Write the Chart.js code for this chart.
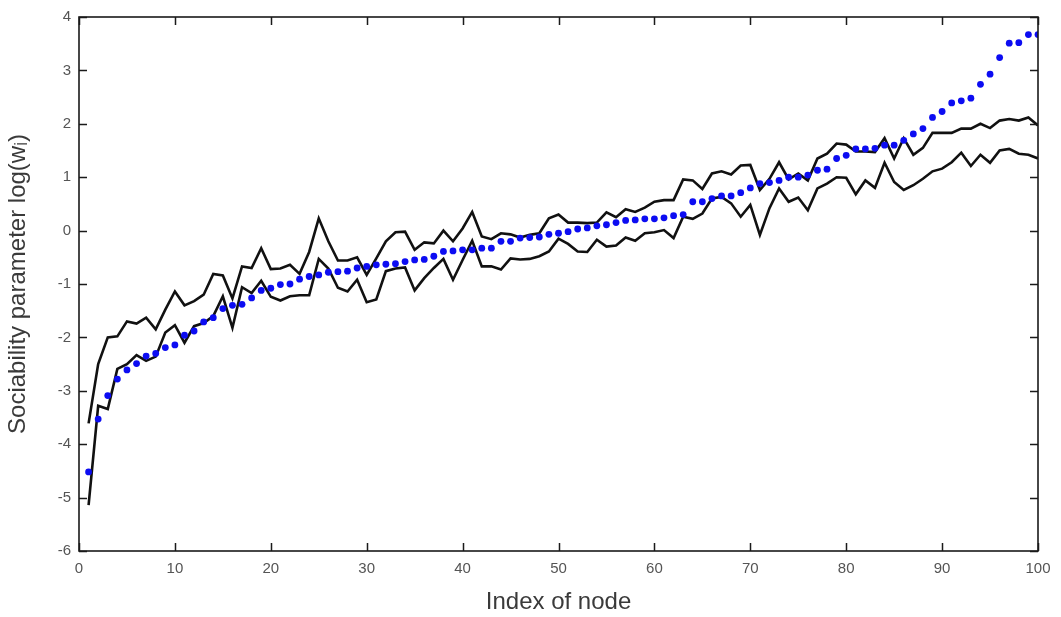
<!DOCTYPE html>
<html>
<head>
<meta charset="utf-8">
<script src="https://cdn.jsdelivr.net/npm/chart.js@4/dist/chart.umd.min.js"></script>
<style>
  html, body { margin: 0; padding: 0; background: #ffffff; }
  #wrap { width: 1061px; height: 617px; }
</style>
</head>
<body>
<div id="wrap"><canvas id="c" width="1061" height="617"></canvas></div>
<script>
// ---- Data ----
const nodeIndex = [1,2,3,4,5,6,7,8,9,10,11,12,13,14,15,16,17,18,19,20,
  21,22,23,24,25,26,27,28,29,30,31,32,33,34,35,36,37,38,39,40,
  41,42,43,44,45,46,47,48,49,50,51,52,53,54,55,56,57,58,59,60,
  61,62,63,64,65,66,67,68,69,70,71,72,73,74,75,76,77,78,79,80,
  81,82,83,84,85,86,87,88,89,90,91,92,93,94,95,96,97,98,99,100];

const estimate = [-4.52,-3.53,-3.09,-2.78,-2.61,-2.49,-2.35,-2.30,-2.19,-2.14,
  -1.96,-1.88,-1.71,-1.63,-1.46,-1.40,-1.38,-1.26,-1.12,-1.08,
  -1.01,-1.00,-0.91,-0.86,-0.83,-0.78,-0.77,-0.76,-0.70,-0.67,
  -0.64,-0.63,-0.62,-0.58,-0.55,-0.54,-0.48,-0.39,-0.38,-0.36,
  -0.36,-0.33,-0.33,-0.20,-0.20,-0.14,-0.13,-0.12,-0.07,-0.05,
  -0.02,0.03,0.05,0.09,0.11,0.15,0.19,0.20,0.22,0.22,
  0.24,0.28,0.30,0.54,0.54,0.60,0.65,0.65,0.71,0.80,
  0.88,0.90,0.94,1.00,1.00,1.04,1.13,1.15,1.35,1.41,
  1.53,1.53,1.54,1.60,1.60,1.69,1.81,1.91,2.12,2.23,
  2.39,2.43,2.48,2.74,2.93,3.24,3.51,3.52,3.67,3.67];

const upperBound = [-3.61,-2.50,-2.00,-1.98,-1.70,-1.74,-1.63,-1.85,-1.48,-1.14,
  -1.40,-1.32,-1.20,-0.81,-0.84,-1.27,-0.67,-0.70,-0.33,-0.72,
  -0.71,-0.64,-0.81,-0.40,0.23,-0.20,-0.56,-0.56,-0.50,-0.83,
  -0.52,-0.20,-0.03,-0.02,-0.36,-0.22,-0.24,0.00,-0.20,0.04,
  0.35,-0.11,-0.16,-0.05,-0.07,-0.13,-0.08,-0.05,0.23,0.30,
  0.15,0.15,0.14,0.15,0.34,0.25,0.40,0.35,0.43,0.54,
  0.57,0.57,0.96,0.94,0.78,1.07,1.11,1.05,1.22,1.23,
  0.76,0.97,1.28,0.96,1.07,0.94,1.35,1.44,1.63,1.61,
  1.48,1.48,1.47,1.73,1.35,1.73,1.42,1.55,1.83,1.83,
  1.83,1.91,1.91,2.00,1.92,2.06,2.09,2.06,2.12,1.97];

const lowerBound = [-5.14,-3.28,-3.34,-2.59,-2.50,-2.33,-2.44,-2.36,-1.91,-1.77,
  -2.10,-1.79,-1.73,-1.60,-1.23,-1.82,-1.06,-1.17,-0.94,-1.24,
  -1.31,-1.23,-1.21,-1.21,-0.53,-0.71,-1.07,-1.14,-0.92,-1.34,
  -1.29,-0.76,-0.71,-0.69,-1.12,-0.89,-0.70,-0.53,-0.92,-0.55,
  -0.19,-0.67,-0.67,-0.73,-0.52,-0.54,-0.53,-0.48,-0.39,-0.15,
  -0.25,-0.39,-0.40,-0.17,-0.30,-0.28,-0.13,-0.19,-0.05,-0.03,
  0.01,-0.14,0.26,0.22,0.32,0.60,0.63,0.51,0.26,0.48,
  -0.08,0.42,0.79,0.54,0.62,0.38,0.79,0.88,1.00,0.99,
  0.68,0.94,0.80,1.27,0.91,0.76,0.85,0.97,1.11,1.16,
  1.28,1.46,1.21,1.42,1.27,1.50,1.53,1.44,1.42,1.35];

const xTickValues = [0,10,20,30,40,50,60,70,80,90,100];
const yTickValues = [-6,-5,-4,-3,-2,-1,0,1,2,3,4];
const xTitle = 'Index of node';
const yTitle = 'Sociability parameter log(w\u1D62)';

// ---- Build points ----
const toPoints = (vals) => nodeIndex.map((n, i) => ({ x: n, y: vals[i] }));

// Frame + inward ticks on all four sides (positions from the chart's scales)
const framePlugin = {
  id: 'frameTicks',
  afterDatasetsDraw(chart) {
    const { ctx, chartArea: a, scales } = chart;
    const xs = scales.x, ys = scales.y;
    const tl = 8;
    ctx.save();
    ctx.strokeStyle = '#1a1a1a';
    ctx.lineWidth = 1.5;
    ctx.beginPath();
    xTickValues.forEach(v => {
      const px = Math.round(xs.getPixelForValue(v)) + 0.5;
      ctx.moveTo(px, a.bottom); ctx.lineTo(px, a.bottom - tl);
      ctx.moveTo(px, a.top); ctx.lineTo(px, a.top + tl);
    });
    yTickValues.forEach(v => {
      const py = Math.round(ys.getPixelForValue(v)) + 0.5;
      ctx.moveTo(a.left, py); ctx.lineTo(a.left + tl, py);
      ctx.moveTo(a.right, py); ctx.lineTo(a.right - tl, py);
    });
    ctx.stroke();
    ctx.lineWidth = 1.6;
    ctx.strokeRect(a.left, a.top, a.right - a.left, a.bottom - a.top);
    ctx.restore();
  }
};

const FONT = '"Liberation Sans", Arial, Helvetica, sans-serif';

new Chart(document.getElementById('c'), {
  type: 'scatter',
  data: {
    datasets: [
      {
        label: 'Estimate',
        data: toPoints(estimate),
        showLine: false,
        pointRadius: 3.4,
        pointHoverRadius: 3.4,
        pointStyle: 'circle',
        backgroundColor: '#0c0cf2',
        borderColor: '#0c0cf2',
        borderWidth: 0,
        order: 0
      },
      {
        label: 'Upper',
        data: toPoints(upperBound),
        showLine: true,
        pointRadius: 0,
        borderColor: '#111111',
        borderWidth: 2.6,
        tension: 0,
        fill: false,
        order: 1
      },
      {
        label: 'Lower',
        data: toPoints(lowerBound),
        showLine: true,
        pointRadius: 0,
        borderColor: '#111111',
        borderWidth: 2.6,
        tension: 0,
        fill: false,
        order: 2
      }
    ]
  },
  options: {
    responsive: false,
    devicePixelRatio: 1,
    animation: false,
    layout: { padding: { top: 14, right: 23, left: 0, bottom: 0 } },
    plugins: {
      legend: { display: false },
      tooltip: { enabled: false }
    },
    scales: {
      x: {
        type: 'linear',
        min: 0, max: 100,
        afterFit(scale) { scale.height = 66; },
        afterBuildTicks(scale) { scale.ticks = xTickValues.map(v => ({ value: v })); },
        grid: { display: false, drawTicks: false },
        border: { display: false },
        ticks: {
          padding: 9,
          color: '#555555',
          font: { family: FONT, size: 15 },
          maxRotation: 0
        },
        title: {
          display: true,
          text: xTitle,
          color: '#3a3a3a',
          font: { family: FONT, size: 24 },
          padding: { top: 0, bottom: 0 }
        }
      },
      y: {
        type: 'linear',
        min: -6, max: 4,
        afterFit(scale) { scale.width = 79; },
        afterBuildTicks(scale) { scale.ticks = yTickValues.map(v => ({ value: v })); },
        grid: { display: false, drawTicks: false },
        border: { display: false },
        ticks: {
          padding: 8,
          color: '#555555',
          font: { family: FONT, size: 15 }
        },
        title: {
          display: true,
          text: yTitle,
          color: '#3a3a3a',
          font: { family: FONT, size: 24 },
          padding: { top: 4, bottom: 0 }
        }
      }
    }
  },
  plugins: [framePlugin]
});
</script>
</body>
</html>
